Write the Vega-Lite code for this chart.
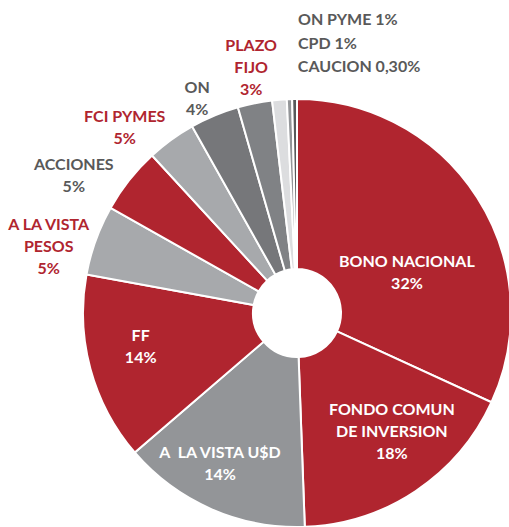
{
  "$schema": "https://vega.github.io/schema/vega-lite/v6.json",
  "width": 424,
  "height": 428,
  "autosize": {"type": "none"},
  "padding": {"left": 85, "top": 99, "right": 0, "bottom": 0},
  "background": "white",
  "config": {"view": {"stroke": null}, "text": {"font": "Lato", "fontWeight": "bold", "fontSize": 16, "lineHeight": 22, "lineBreak": "\n", "baseline": "middle"}},
  "data": {"values": [
    {"n": 1, "name": "BONO NACIONAL", "value": 31.9, "label": "BONO NACIONAL\n32%"},
    {"n": 2, "name": "FONDO COMUN DE INVERSION", "value": 17.6, "label": "FONDO COMUN\nDE INVERSION\n18%"},
    {"n": 3, "name": "A LA VISTA U$D", "value": 14.3, "label": "A\u00a0 LA VISTA U$D\n14%"},
    {"n": 4, "name": "FF", "value": 14.2, "label": "FF\n14%"},
    {"n": 5, "name": "A LA VISTA PESOS", "value": 5.3, "label": "A LA VISTA\nPESOS\n5%"},
    {"n": 6, "name": "ACCIONES", "value": 5.0, "label": "ACCIONES\n5%"},
    {"n": 7, "name": "FCI PYMES", "value": 3.7, "label": "FCI PYMES\n5%"},
    {"n": 8, "name": "ON", "value": 3.7, "label": "ON\n4%"},
    {"n": 9, "name": "PLAZO FIJO", "value": 2.6, "label": "PLAZO\nFIJO\n3%"},
    {"n": 10, "name": "ON PYME", "value": 1.1, "label": "ON PYME 1%"},
    {"n": 11, "name": "CPD", "value": 0.4, "label": "CPD 1%"},
    {"n": 12, "name": "CAUCION", "value": 0.36, "label": "CAUCION 0,30%"}
  ]},
  "encoding": {
    "theta": {"field": "value", "type": "quantitative", "stack": true},
    "order": {"field": "n", "type": "quantitative"}
  },
  "layer": [
    {
      "mark": {"type": "arc", "innerRadius": 44, "outerRadius": 214, "stroke": "white", "strokeWidth": 2},
      "encoding": {
        "color": {
          "field": "name", "type": "nominal", "legend": null,
          "scale": {
            "domain": ["BONO NACIONAL", "FONDO COMUN DE INVERSION", "A LA VISTA U$D", "FF", "A LA VISTA PESOS", "ACCIONES", "FCI PYMES", "ON", "PLAZO FIJO", "ON PYME", "CPD", "CAUCION"],
            "range": ["#b0252f", "#b0252f", "#939598", "#b0252f", "#a7a9ac", "#b0252f", "#a7a9ac", "#76777a", "#808285", "#dcdddf", "#939598", "#58595b"]
          }
        }
      }
    },
    {"mark": {"type": "text", "radius": 117, "thetaOffset": 0.221, "dy": -11, "color": "white", "align": "center"},
     "encoding": {"text": {"condition": {"test": "datum.name === 'BONO NACIONAL'", "field": "label", "type": "nominal"}, "value": ""}}},
    {"mark": {"type": "text", "radius": 152, "thetaOffset": -0.0853, "dy": -22, "color": "white", "align": "center"},
     "encoding": {"text": {"condition": {"test": "datum.name === 'FONDO COMUN DE INVERSION'", "field": "label", "type": "nominal"}, "value": ""}}},
    {"mark": {"type": "text", "radius": 169.5, "thetaOffset": 0.059, "dy": -11, "color": "white", "align": "center"},
     "encoding": {"text": {"condition": {"test": "datum.name === 'A LA VISTA U$D'", "field": "label", "type": "nominal"}, "value": ""}}},
    {"mark": {"type": "text", "radius": 160, "thetaOffset": 0.05, "dy": -11, "color": "white", "align": "center"},
     "encoding": {"text": {"condition": {"test": "datum.name === 'FF'", "field": "label", "type": "nominal"}, "value": ""}}},
    {"mark": {"type": "text", "radius": 257, "thetaOffset": -0.0853, "dy": -22, "color": "#b0252f", "align": "center"},
     "encoding": {"text": {"condition": {"test": "datum.name === 'A LA VISTA PESOS'", "field": "label", "type": "nominal"}, "value": ""}}},
    {"mark": {"type": "text", "radius": 262, "thetaOffset": -0.1187, "dy": -11, "color": "#595959", "align": "center"},
     "encoding": {"text": {"condition": {"test": "datum.name === 'ACCIONES'", "field": "label", "type": "nominal"}, "value": ""}}},
    {"mark": {"type": "text", "radius": 253, "thetaOffset": -0.121, "dy": -11, "color": "#b0252f", "align": "center"},
     "encoding": {"text": {"condition": {"test": "datum.name === 'FCI PYMES'", "field": "label", "type": "nominal"}, "value": ""}}},
    {"mark": {"type": "text", "radius": 236, "thetaOffset": -0.0407, "dy": -11, "color": "#595959", "align": "center"},
     "encoding": {"text": {"condition": {"test": "datum.name === 'ON'", "field": "label", "type": "nominal"}, "value": ""}}},
    {"mark": {"type": "text", "radius": 249, "thetaOffset": 0.0131, "dy": -22, "color": "#b0252f", "align": "center"},
     "encoding": {"text": {"condition": {"test": "datum.name === 'PLAZO FIJO'", "field": "label", "type": "nominal"}, "value": ""}}},
    {"mark": {"type": "text", "radius": 293, "thetaOffset": 0.0855, "color": "#595959", "align": "left"},
     "encoding": {"text": {"condition": {"test": "datum.name === 'ON PYME'", "field": "label", "type": "nominal"}, "value": ""}}},
    {"mark": {"type": "text", "radius": 269, "thetaOffset": 0.0386, "color": "#595959", "align": "left"},
     "encoding": {"text": {"condition": {"test": "datum.name === 'CPD'", "field": "label", "type": "nominal"}, "value": ""}}},
    {"mark": {"type": "text", "radius": 246, "thetaOffset": 0.0147, "color": "#595959", "align": "left"},
     "encoding": {"text": {"condition": {"test": "datum.name === 'CAUCION'", "field": "label", "type": "nominal"}, "value": ""}}}
  ]
}
